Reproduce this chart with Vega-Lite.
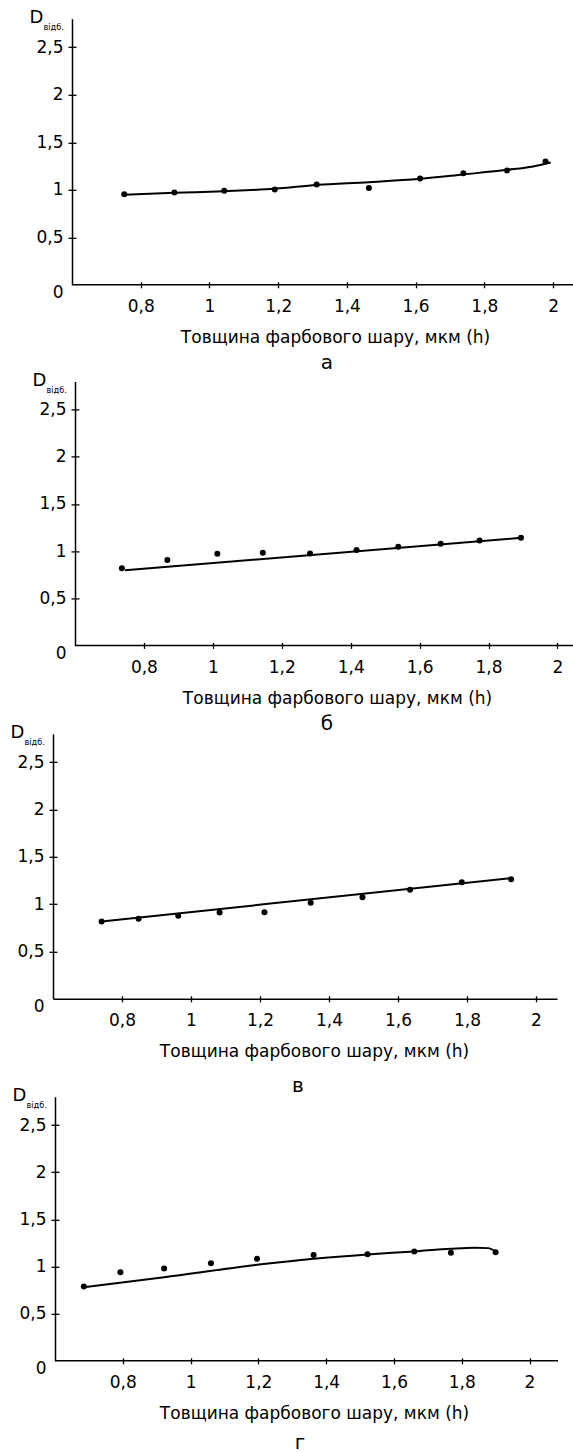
{
  "$schema": "https://vega.github.io/schema/vega-lite/v6.json",
  "background": "white",
  "padding": {"left": 10, "top": 8.8, "right": 0, "bottom": 0},
  "config": {
    "font": "DejaVu Sans",
    "view": {"stroke": null},
    "axis": {"grid": false, "domainColor": "#000", "tickColor": "#000", "labelColor": "#000", "titleColor": "#000", "domainWidth": 1.5, "tickWidth": 1.3, "labelFontSize": 17, "labelFont": "DejaVu Sans", "titleFont": "DejaVu Sans", "titleFontWeight": "normal", "labelFlush": false, "labelOverlap": false},
    "title": {"font": "DejaVu Sans", "fontWeight": "normal", "fontSize": 20, "color": "#000"}
  },
  "datasets": {
    "pa": [{"h":0.752,"d":0.954},{"h":0.898,"d":0.972},{"h":1.043,"d":0.989},{"h":1.19,"d":1.004},{"h":1.312,"d":1.056},{"h":1.464,"d":1.018},{"h":1.613,"d":1.119},{"h":1.739,"d":1.175},{"h":1.866,"d":1.204},{"h":1.978,"d":1.298}],
    "ca": [{"h":0.752,"d":0.947},{"h":0.898,"d":0.968},{"h":1.043,"d":0.986},{"h":1.19,"d":1.011},{"h":1.312,"d":1.05},{"h":1.464,"d":1.08},{"h":1.613,"d":1.116},{"h":1.739,"d":1.162},{"h":1.866,"d":1.21},{"h":1.942,"d":1.246},{"h":1.993,"d":1.288}],
    "pb": [{"h":0.736,"d":0.817},{"h":0.868,"d":0.905},{"h":1.013,"d":0.972},{"h":1.145,"d":0.982},{"h":1.282,"d":0.975},{"h":1.417,"d":1.011},{"h":1.538,"d":1.046},{"h":1.661,"d":1.077},{"h":1.774,"d":1.113},{"h":1.894,"d":1.141}],
    "cb": [{"h":0.745,"d":0.796},{"h":1.894,"d":1.141}],
    "pc": [{"h":0.741,"d":0.817},{"h":0.848,"d":0.845},{"h":0.963,"d":0.877},{"h":1.083,"d":0.912},{"h":1.213,"d":0.915},{"h":1.347,"d":1.014},{"h":1.497,"d":1.074},{"h":1.635,"d":1.151},{"h":1.785,"d":1.232},{"h":1.928,"d":1.264}],
    "cc": [{"h":0.741,"d":0.817},{"h":1.928,"d":1.275}],
    "pd": [{"h":0.685,"d":0.787},{"h":0.793,"d":0.94},{"h":0.922,"d":0.979},{"h":1.06,"d":1.035},{"h":1.196,"d":1.082},{"h":1.363,"d":1.121},{"h":1.522,"d":1.131},{"h":1.66,"d":1.16},{"h":1.768,"d":1.145},{"h":1.9,"d":1.152}],
    "cd": [{"h":0.685,"d":0.78},{"h":0.922,"d":0.887},{"h":1.196,"d":1.018},{"h":1.363,"d":1.082},{"h":1.522,"d":1.128},{"h":1.66,"d":1.16},{"h":1.768,"d":1.188},{"h":1.838,"d":1.199},{"h":1.877,"d":1.195},{"h":1.902,"d":1.155}]
  },
  "spacing": -15.4,
  "vconcat": [
    {
      "spacing": -2.4,
      "vconcat": [
        {
          "width": 520, "height": 266,
          "title": {"text": "а", "orient": "bottom", "frame": "group", "anchor": "middle", "baseline": "alphabetic", "offset": 23.4, "dx": 14},
          "resolve": {"axis": {"x": "independent", "y": "independent"}},
          "layer": [
            {"data": {"values": [{}]}, "mark": {"type": "rule", "color": "#000", "strokeWidth": 1.5},
             "encoding": {"x": {"datum": 0.6, "type": "quantitative", "axis": null}, "x2": {"datum": 2.058}, "y": {"datum": 0, "type": "quantitative", "axis": null}}},
            {"data": {"name": "ca"}, "mark": {"type": "line", "color": "#000", "strokeWidth": 2, "interpolate": "monotone"},
             "encoding": {
               "x": {"field": "h", "type": "quantitative", "scale": {"domain": [0.5447, 2.058], "nice": false, "zero": false},
                     "axis": {"orient": "bottom", "domain": false, "values": [0.8,1,1.2,1.4,1.6,1.8,2], "labelExpr": "replace(toString(datum.value), '.', ',')", "tickSize": 3, "labelPadding": 11, "title": "Товщина фарбового шару, мкм (h)", "titleFontSize": 17, "titleX": 282, "titleY": 58, "titleAlign": "center", "titleBaseline": "alphabetic"}},
               "y": {"field": "d", "type": "quantitative", "scale": {"domain": [0, 2.8], "nice": false},
                     "axis": {"orient": "left", "offset": -19, "values": [0,0.5,1,1.5,2,2.5], "labelExpr": "replace(toString(datum.value), '.', ',')", "tickSize": 4, "labelPadding": 5, "labelBaseline": {"condition": {"test": "datum.value == 0", "value": "top"}, "value": "middle"}, "tickOpacity": {"condition": {"test": "datum.value == 0", "value": 0}, "value": 1}, "title": "D", "titleAngle": 0, "titleAlign": "left", "titleBaseline": "alphabetic", "titleX": -43, "titleY": 4, "titleFontSize": 18, "titlePadding": 0}}
             }},
            {"data": {"name": "pa"}, "mark": {"type": "circle", "color": "#000", "opacity": 1, "size": 36},
             "encoding": {
               "x": {"field": "h", "type": "quantitative", "axis": {"orient": "bottom", "values": [0.8,1,1.2,1.4,1.6,1.8,2], "tickSize": -3, "labels": false, "domain": false, "title": null}},
               "y": {"field": "d", "type": "quantitative", "axis": {"orient": "left", "offset": -19, "values": [0.5,1,1.5,2,2.5], "tickSize": -4, "labels": false, "domain": false, "title": "відб.", "titleAngle": 0, "titleAlign": "left", "titleBaseline": "alphabetic", "titleX": -29, "titleY": 11, "titleFontSize": 8.2, "titlePadding": 0}}
             }}
          ]
        },
        {
          "width": 520, "height": 264,
          "title": {"text": "б", "orient": "bottom", "frame": "group", "anchor": "middle", "baseline": "alphabetic", "offset": 23.4, "dx": 14},
          "resolve": {"axis": {"x": "independent", "y": "independent"}},
          "layer": [
            {"data": {"values": [{}]}, "mark": {"type": "rule", "color": "#000", "strokeWidth": 1.5},
             "encoding": {"x": {"datum": 0.6, "type": "quantitative", "axis": null}, "x2": {"datum": 2.045}, "y": {"datum": 0, "type": "quantitative", "axis": null}}},
            {"data": {"name": "cb"}, "mark": {"type": "line", "color": "#000", "strokeWidth": 2},
             "encoding": {
               "x": {"field": "h", "type": "quantitative", "scale": {"domain": [0.5362, 2.045], "nice": false, "zero": false},
                     "axis": {"orient": "bottom", "domain": false, "values": [0.8,1,1.2,1.4,1.6,1.8,2], "labelExpr": "replace(toString(datum.value), '.', ',')", "tickSize": 3, "labelPadding": 11, "title": "Товщина фарбового шару, мкм (h)", "titleFontSize": 17, "titleX": 284, "titleY": 58, "titleAlign": "center", "titleBaseline": "alphabetic"}},
               "y": {"field": "d", "type": "quantitative", "scale": {"domain": [0, 2.8], "nice": false},
                     "axis": {"orient": "left", "offset": -22, "values": [0,0.5,1,1.5,2,2.5], "labelExpr": "replace(toString(datum.value), '.', ',')", "tickSize": 4, "labelPadding": 5, "labelBaseline": {"condition": {"test": "datum.value == 0", "value": "top"}, "value": "middle"}, "tickOpacity": {"condition": {"test": "datum.value == 0", "value": 0}, "value": 1}, "title": "D", "titleAngle": 0, "titleAlign": "left", "titleBaseline": "alphabetic", "titleX": -43, "titleY": 4, "titleFontSize": 18, "titlePadding": 0}}
             }},
            {"data": {"name": "pb"}, "mark": {"type": "circle", "color": "#000", "opacity": 1, "size": 36},
             "encoding": {
               "x": {"field": "h", "type": "quantitative", "axis": {"orient": "bottom", "values": [0.8,1,1.2,1.4,1.6,1.8,2], "tickSize": -3, "labels": false, "domain": false, "title": null}},
               "y": {"field": "d", "type": "quantitative", "axis": {"orient": "left", "offset": -22, "values": [0.5,1,1.5,2,2.5], "tickSize": -4, "labels": false, "domain": false, "title": "відб.", "titleAngle": 0, "titleAlign": "left", "titleBaseline": "alphabetic", "titleX": -29, "titleY": 11, "titleFontSize": 8.2, "titlePadding": 0}}
             }}
          ]
        }
      ]
    },
    {
      "spacing": -12.1,
      "vconcat": [
        {
          "width": 504, "height": 265,
          "title": {"text": "в", "orient": "bottom", "frame": "group", "anchor": "middle", "baseline": "alphabetic", "offset": 32.4, "dx": -7},
          "resolve": {"axis": {"x": "independent", "y": "independent"}},
          "layer": [
            {"data": {"name": "cc"}, "mark": {"type": "line", "color": "#000", "strokeWidth": 2},
             "encoding": {
               "x": {"field": "h", "type": "quantitative", "scale": {"domain": [0.6, 2.061], "nice": false, "zero": false},
                     "axis": {"orient": "bottom", "values": [0.8,1,1.2,1.4,1.6,1.8,2], "labelExpr": "replace(toString(datum.value), '.', ',')", "tickSize": 3, "labelPadding": 11, "title": "Товщина фарбового шару, мкм (h)", "titleFontSize": 17, "titleX": 261, "titleY": 58, "titleAlign": "center", "titleBaseline": "alphabetic"}},
               "y": {"field": "d", "type": "quantitative", "scale": {"domain": [0, 2.8], "nice": false},
                     "axis": {"orient": "left", "values": [0,0.5,1,1.5,2,2.5], "labelExpr": "replace(toString(datum.value), '.', ',')", "tickSize": 4, "labelPadding": 5, "labelBaseline": {"condition": {"test": "datum.value == 0", "value": "top"}, "value": "middle"}, "tickOpacity": {"condition": {"test": "datum.value == 0", "value": 0}, "value": 1}, "title": "D", "titleAngle": 0, "titleAlign": "left", "titleBaseline": "alphabetic", "titleX": -43, "titleY": 4, "titleFontSize": 18, "titlePadding": 0}}
             }},
            {"data": {"name": "pc"}, "mark": {"type": "circle", "color": "#000", "opacity": 1, "size": 36},
             "encoding": {
               "x": {"field": "h", "type": "quantitative", "axis": {"orient": "bottom", "values": [0.8,1,1.2,1.4,1.6,1.8,2], "tickSize": -3, "labels": false, "domain": false, "title": null}},
               "y": {"field": "d", "type": "quantitative", "axis": {"orient": "left", "values": [0.5,1,1.5,2,2.5], "tickSize": -4, "labels": false, "domain": false, "title": "відб.", "titleAngle": 0, "titleAlign": "left", "titleBaseline": "alphabetic", "titleX": -29, "titleY": 11, "titleFontSize": 8.2, "titlePadding": 0}}
             }}
          ]
        },
        {
          "width": 505, "height": 264,
          "title": {"text": "г", "orient": "bottom", "frame": "group", "anchor": "middle", "baseline": "alphabetic", "offset": 27.4, "dx": -5.5},
          "resolve": {"axis": {"x": "independent", "y": "independent"}},
          "layer": [
            {"data": {"values": [{}]}, "mark": {"type": "rule", "color": "#000", "strokeWidth": 1.5},
             "encoding": {"x": {"datum": 0.6, "type": "quantitative", "axis": null}, "x2": {"datum": 2.084}, "y": {"datum": 0, "type": "quantitative", "axis": null}}},
            {"data": {"name": "cd"}, "mark": {"type": "line", "color": "#000", "strokeWidth": 2, "interpolate": "monotone"},
             "encoding": {
               "x": {"field": "h", "type": "quantitative", "scale": {"domain": [0.5941, 2.084], "nice": false, "zero": false},
                     "axis": {"orient": "bottom", "domain": false, "values": [0.8,1,1.2,1.4,1.6,1.8,2], "labelExpr": "replace(toString(datum.value), '.', ',')", "tickSize": 3, "labelPadding": 11, "title": "Товщина фарбового шару, мкм (h)", "titleFontSize": 17, "titleX": 261, "titleY": 58, "titleAlign": "center", "titleBaseline": "alphabetic"}},
               "y": {"field": "d", "type": "quantitative", "scale": {"domain": [0, 2.8], "nice": false},
                     "axis": {"orient": "left", "offset": -2, "values": [0,0.5,1,1.5,2,2.5], "labelExpr": "replace(toString(datum.value), '.', ',')", "tickSize": 4, "labelPadding": 5, "labelBaseline": {"condition": {"test": "datum.value == 0", "value": "top"}, "value": "middle"}, "tickOpacity": {"condition": {"test": "datum.value == 0", "value": 0}, "value": 1}, "title": "D", "titleAngle": 0, "titleAlign": "left", "titleBaseline": "alphabetic", "titleX": -43, "titleY": 4, "titleFontSize": 18, "titlePadding": 0}}
             }},
            {"data": {"name": "pd"}, "mark": {"type": "circle", "color": "#000", "opacity": 1, "size": 36},
             "encoding": {
               "x": {"field": "h", "type": "quantitative", "axis": {"orient": "bottom", "values": [0.8,1,1.2,1.4,1.6,1.8,2], "tickSize": -3, "labels": false, "domain": false, "title": null}},
               "y": {"field": "d", "type": "quantitative", "axis": {"orient": "left", "offset": -2, "values": [0.5,1,1.5,2,2.5], "tickSize": -4, "labels": false, "domain": false, "title": "відб.", "titleAngle": 0, "titleAlign": "left", "titleBaseline": "alphabetic", "titleX": -29, "titleY": 11, "titleFontSize": 8.2, "titlePadding": 0}}
             }}
          ]
        }
      ]
    }
  ]
}
